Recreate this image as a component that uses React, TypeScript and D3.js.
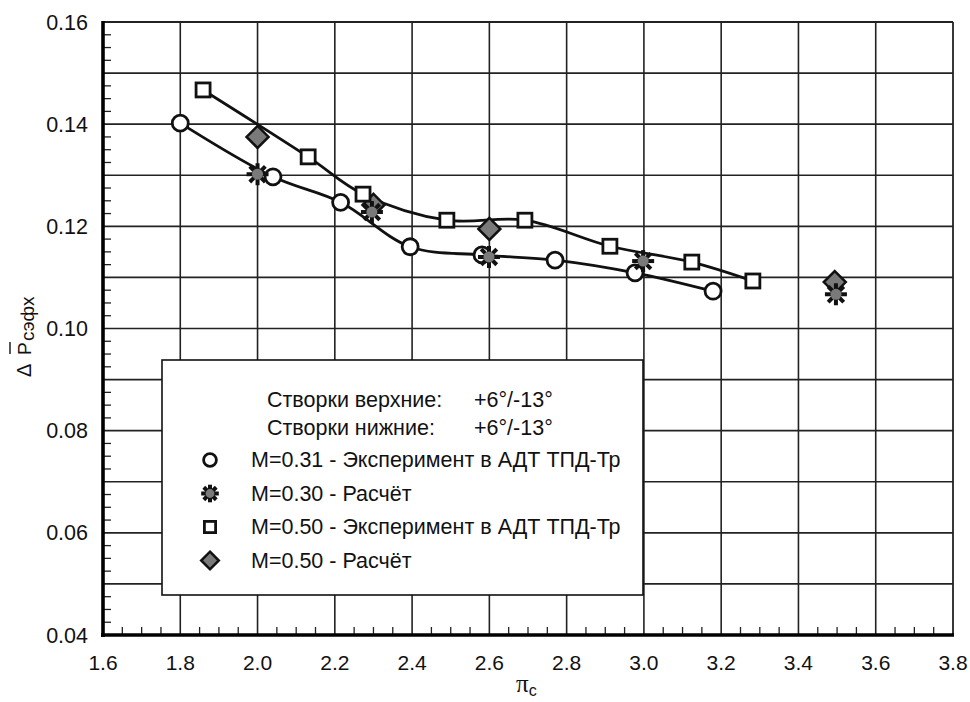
import * as d3 from "d3";
import { useRef, useEffect } from "react";

// M=0.31 experiment (circles)
const circX = [1.8, 2.04, 2.215, 2.395, 2.581, 2.77, 2.977, 3.179];
const circY = [0.1402, 0.1297, 0.1247, 0.116, 0.1144, 0.1134, 0.1109, 0.1073];
// M=0.50 experiment (squares)
const sqX = [1.859, 2.131, 2.273, 2.49, 2.692, 2.912, 3.124, 3.282];
const sqY = [0.1467, 0.1336, 0.1263, 0.1212, 0.1212, 0.1161, 0.113, 0.1093];
// M=0.30 calc (stars)
const starX = [2.0, 2.296, 2.599, 2.998, 3.497];
const starY = [0.1302, 0.1228, 0.114, 0.1132, 0.1067];
// M=0.50 calc (diamonds)
const diaX = [2.0, 2.3, 2.6, 3.494];
const diaY = [0.1375, 0.1242, 0.1195, 0.1091];

const xTicks = [1.6, 1.8, 2.0, 2.2, 2.4, 2.6, 2.8, 3.0, 3.2, 3.4, 3.6, 3.8];
const yTicks = [0.04, 0.06, 0.08, 0.1, 0.12, 0.14, 0.16];

const legendHead = [
  ["Створки верхние:", "+6°/-13°"],
  ["Створки нижние:", "+6°/-13°"],
];
const legendItems = [
  { sym: "circle", label: "M=0.31 - Эксперимент в АДТ ТПД-Тр" },
  { sym: "star", label: "M=0.30 - Расчёт" },
  { sym: "square", label: "M=0.50 - Эксперимент в АДТ ТПД-Тр" },
  { sym: "diamond", label: "M=0.50 - Расчёт" },
];

const FONT = "'Liberation Sans', Arial, sans-serif";
const GREY = "#7a7a7a";

const drawSym = (g, sym, cx, cy, s = 1) => {
  if (sym === "circle") {
    g.append("circle").attr("cx", cx).attr("cy", cy).attr("r", 8 * s)
      .attr("fill", "#fff").attr("stroke", "#111").attr("stroke-width", 2.8);
  } else if (sym === "square") {
    const h = 7 * s;
    g.append("rect").attr("x", cx - h).attr("y", cy - h)
      .attr("width", 2 * h).attr("height", 2 * h)
      .attr("fill", "#fff").attr("stroke", "#111").attr("stroke-width", 2.8);
  } else if (sym === "diamond") {
    const h = 11 * s;
    g.append("path")
      .attr("d", `M${cx},${cy - h}L${cx + h},${cy}L${cx},${cy + h}L${cx - h},${cy}Z`)
      .attr("fill", GREY).attr("stroke", "#111").attr("stroke-width", 2.5);
  } else if (sym === "star") {
    const r = 11 * s;
    for (let i = 0; i < 4; i++) {
      const a = (i * Math.PI) / 4;
      g.append("line")
        .attr("x1", cx - r * Math.cos(a)).attr("y1", cy - r * Math.sin(a))
        .attr("x2", cx + r * Math.cos(a)).attr("y2", cy + r * Math.sin(a))
        .attr("stroke", "#111").attr("stroke-width", 4);
    }
    g.append("circle").attr("cx", cx).attr("cy", cy).attr("r", 5.5 * s)
      .attr("fill", GREY);
  }
};

const Chart = () => {
  const ref = useRef(null);

  useEffect(() => {
    const svg = d3.select(ref.current);
    svg.selectAll("*").remove();

    const left = 103, right = 953, top = 22, bottom = 635;
    const x = d3.scaleLinear().domain([1.6, 3.8]).range([left, right]);
    const y = d3.scaleLinear().domain([0.04, 0.16]).range([bottom, top]);

    const grid = svg.append("g").attr("stroke", "#222").attr("stroke-width", 1.6);

    // vertical grid every 0.2
    xTicks.slice(1, -1).forEach((v) => {
      grid.append("line").attr("x1", x(v)).attr("x2", x(v))
        .attr("y1", top).attr("y2", bottom);
    });
    // horizontal grid every 0.01
    d3.range(0.05, 0.1599, 0.01).forEach((v) => {
      grid.append("line").attr("x1", left).attr("x2", right)
        .attr("y1", y(v)).attr("y2", y(v));
    });

    // minor ticks
    d3.range(1.65, 3.8, 0.05).forEach((v, i) => {
      if ((i + 1) % 4 === 0) return;
      grid.append("line").attr("x1", x(v)).attr("x2", x(v))
        .attr("y1", bottom).attr("y2", bottom - 8).attr("stroke-width", 1.3);
    });
    d3.range(0.0425, 0.16, 0.0025).forEach((v, i) => {
      if ((i + 1) % 4 === 0) return;
      grid.append("line").attr("x1", left).attr("x2", left + 8)
        .attr("y1", y(v)).attr("y2", y(v)).attr("stroke-width", 1.3);
    });

    // frame
    svg.append("line").attr("x1", left).attr("x2", right).attr("y1", top).attr("y2", top)
      .attr("stroke", "#222").attr("stroke-width", 1.8);
    svg.append("line").attr("x1", right).attr("x2", right).attr("y1", top).attr("y2", bottom)
      .attr("stroke", "#222").attr("stroke-width", 1.8);
    svg.append("line").attr("x1", left).attr("x2", left).attr("y1", top - 1).attr("y2", bottom + 2)
      .attr("stroke", "#000").attr("stroke-width", 3.6);
    svg.append("line").attr("x1", left - 2).attr("x2", right + 1).attr("y1", bottom).attr("y2", bottom)
      .attr("stroke", "#000").attr("stroke-width", 3.6);

    // tick labels
    svg.append("g").selectAll("text").data(xTicks).join("text")
      .attr("x", (d) => x(d)).attr("y", 670)
      .attr("text-anchor", "middle")
      .style("font-family", FONT).style("font-size", "21px").attr("fill", "#111")
      .text((d) => d.toFixed(1));
    svg.append("g").selectAll("text").data(yTicks).join("text")
      .attr("x", 88).attr("y", (d) => y(d) + 7.5)
      .attr("text-anchor", "end")
      .style("font-family", FONT).style("font-size", "21.5px").attr("fill", "#111")
      .text((d) => d.toFixed(2));

    // axis titles
    const xt = svg.append("text").attr("x", 516).attr("y", 692)
      .style("font-family", "'Liberation Serif', 'Times New Roman', serif")
      .style("font-size", "25px").attr("fill", "#111");
    xt.append("tspan").text("π");
    xt.append("tspan").attr("dy", 4).style("font-size", "16px")
      .style("font-family", FONT).text("c");

    const yt = svg.append("g").attr("transform", "translate(31,330) rotate(-90)");
    yt.append("text").attr("x", -47).attr("y", 0)
      .style("font-family", FONT).style("font-size", "20px").attr("fill", "#111").text("Δ");
    yt.append("text").attr("x", -25).attr("y", 0)
      .style("font-family", FONT).style("font-size", "19px").attr("fill", "#111").text("P");
    yt.append("line").attr("x1", -24).attr("x2", -12).attr("y1", -21).attr("y2", -21)
      .attr("stroke", "#111").attr("stroke-width", 1.4);
    yt.append("text").attr("x", -11).attr("y", 3)
      .style("font-family", FONT).style("font-size", "19px").attr("fill", "#111").text("сэфх");

    // curves
    const line = d3.line().curve(d3.curveCatmullRom.alpha(0.5))
      .x((d) => x(d[0])).y((d) => y(d[1]));
    svg.append("path").attr("d", line(d3.zip(circX, circY)))
      .attr("fill", "none").attr("stroke", "#111").attr("stroke-width", 2.8);
    svg.append("path").attr("d", line(d3.zip(sqX, sqY)))
      .attr("fill", "none").attr("stroke", "#111").attr("stroke-width", 2.8);

    // markers
    const mk = svg.append("g");
    diaX.forEach((v, i) => drawSym(mk, "diamond", x(v), y(diaY[i])));
    sqX.forEach((v, i) => drawSym(mk, "square", x(v), y(sqY[i])));
    circX.forEach((v, i) => drawSym(mk, "circle", x(v), y(circY[i])));
    starX.forEach((v, i) => drawSym(mk, "star", x(v), y(starY[i])));

    // legend
    const lg = svg.append("g");
    lg.append("rect").attr("x", 162).attr("y", 360).attr("width", 481).attr("height", 235)
      .attr("fill", "#fff").attr("stroke", "#111").attr("stroke-width", 1.6);
    legendHead.forEach(([a, b], i) => {
      lg.append("text").attr("x", 267).attr("y", 407 + i * 28)
        .style("font-family", FONT).style("font-size", "21.5px").attr("fill", "#111").text(a);
      lg.append("text").attr("x", 474).attr("y", 407 + i * 28)
        .style("font-family", FONT).style("font-size", "21.5px").attr("fill", "#111").text(b);
    });
    legendItems.forEach((it, i) => {
      const cy = 460 + i * 33.5;
      drawSym(lg, it.sym, 210, cy, 0.8);
      lg.append("text").attr("x", 251).attr("y", cy + 7)
        .style("font-family", FONT).style("font-size", "21.5px").attr("fill", "#111").text(it.label);
    });
  }, []);

  return (
    <svg ref={ref} width={970} height={702}
      style={{ position: "absolute", left: 0, top: 0, background: "#fff" }} />
  );
};

export default function App() {
  return <Chart />;
}
